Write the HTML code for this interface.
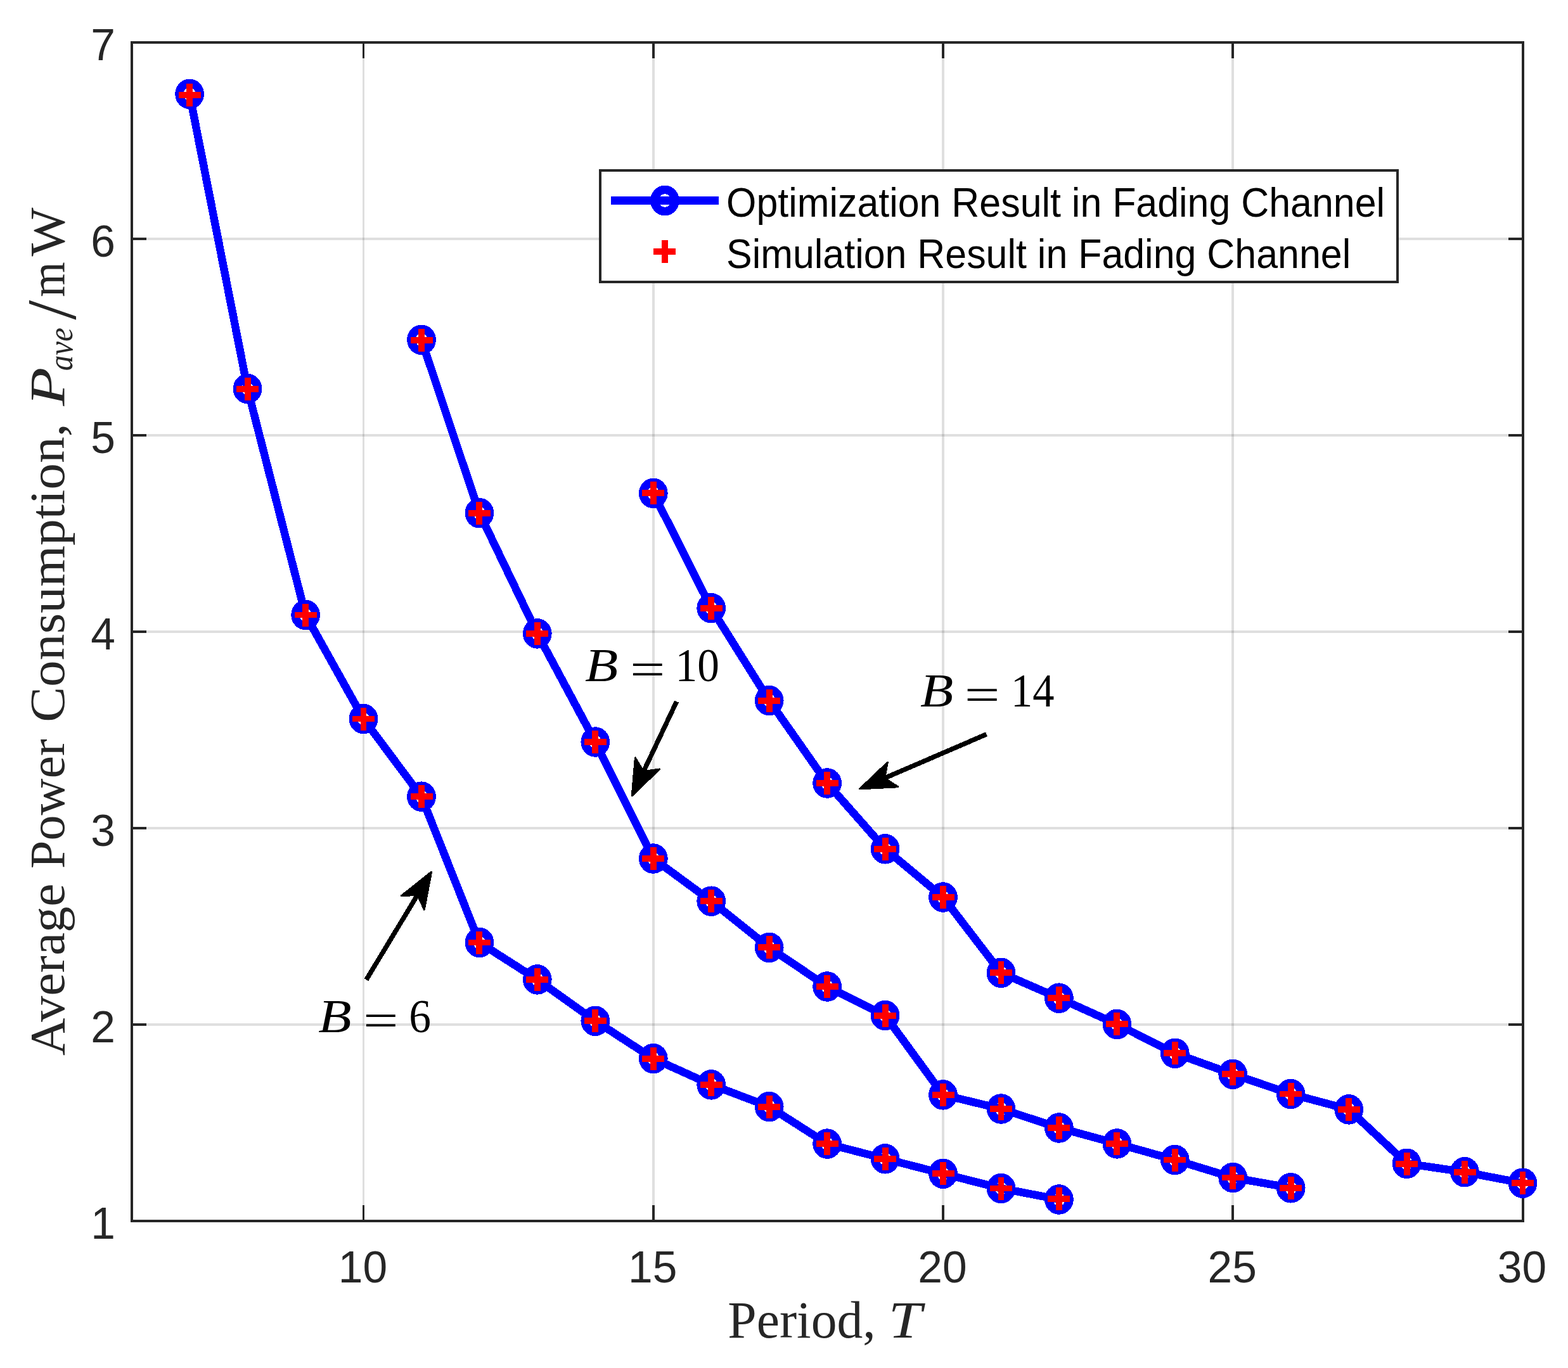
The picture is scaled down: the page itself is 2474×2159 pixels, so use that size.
<!DOCTYPE html>
<html lang="en"><head><meta charset="utf-8"><title>Average Power Consumption vs Period</title>
<style>
html,body{margin:0;padding:0;background:#fff;}
body{width:2474px;height:2159px;overflow:hidden;}
svg{display:block;}
.tk{font-family:'Liberation Sans',Arial,Helvetica,sans-serif;fill:#262626;}
.lg{font-family:'Liberation Sans',Arial,Helvetica,sans-serif;fill:#000;}
.lb{font-family:'Liberation Serif','Times New Roman',serif;fill:#262626;}
.an{font-family:'Liberation Serif','Times New Roman',serif;fill:#000;}
</style></head><body>
<svg width="2474" height="2159" viewBox="0 0 2474 2159">
<rect x="0" y="0" width="2474" height="2159" fill="#fff"/>
<g fill="#262626" fill-opacity="0.15" shape-rendering="crispEdges">
<rect x="572.0" y="67.0" width="3" height="1860.0"/>
<rect x="1029.0" y="67.0" width="4" height="1860.0"/>
<rect x="1486.0" y="67.0" width="4" height="1860.0"/>
<rect x="1943.0" y="67.0" width="4" height="1860.0"/>
<rect x="208.0" y="1615.0" width="2195.0" height="4"/>
<rect x="208.0" y="1305.0" width="2195.0" height="4"/>
<rect x="208.0" y="995.0" width="2195.0" height="4"/>
<rect x="208.0" y="685.0" width="2195.0" height="4"/>
<rect x="208.0" y="375.0" width="2195.0" height="4"/>
</g>
<g fill="#262626" shape-rendering="crispEdges">
<rect x="572.0" y="1902.0" width="3" height="25.0"/>
<rect x="572.0" y="67.0" width="3" height="25.0"/>
<rect x="1029.0" y="1902.0" width="4" height="25.0"/>
<rect x="1029.0" y="67.0" width="4" height="25.0"/>
<rect x="1486.0" y="1902.0" width="4" height="25.0"/>
<rect x="1486.0" y="67.0" width="4" height="25.0"/>
<rect x="1943.0" y="1902.0" width="4" height="25.0"/>
<rect x="1943.0" y="67.0" width="4" height="25.0"/>
<rect x="208.0" y="1615.0" width="23.0" height="4"/>
<rect x="2380.0" y="1615.0" width="23.0" height="4"/>
<rect x="208.0" y="1305.0" width="23.0" height="4"/>
<rect x="2380.0" y="1305.0" width="23.0" height="4"/>
<rect x="208.0" y="995.0" width="23.0" height="4"/>
<rect x="2380.0" y="995.0" width="23.0" height="4"/>
<rect x="208.0" y="685.0" width="23.0" height="4"/>
<rect x="2380.0" y="685.0" width="23.0" height="4"/>
<rect x="208.0" y="375.0" width="23.0" height="4"/>
<rect x="2380.0" y="375.0" width="23.0" height="4"/>
</g>
<rect x="208.00" y="67.00" width="2195.00" height="1860.00" fill="none" stroke="#262626" stroke-width="4.0"/>
<text class="tk" text-anchor="middle" font-size="69.5" transform="translate(572.50,2024) scale(1,1.020)">10</text>
<text class="tk" text-anchor="middle" font-size="69.5" transform="translate(1029.75,2024) scale(1,1.020)">15</text>
<text class="tk" text-anchor="middle" font-size="69.5" transform="translate(1487.00,2024) scale(1,1.020)">20</text>
<text class="tk" text-anchor="middle" font-size="69.5" transform="translate(1944.25,2024) scale(1,1.020)">25</text>
<text class="tk" text-anchor="middle" font-size="69.5" transform="translate(2401.50,2024) scale(1,1.020)">30</text>
<text class="tk" text-anchor="end" font-size="69.5" transform="translate(181.9,1955.00) scale(1,1.020)">1</text>
<text class="tk" text-anchor="end" font-size="69.5" transform="translate(181.9,1645.00) scale(1,1.020)">2</text>
<text class="tk" text-anchor="end" font-size="69.5" transform="translate(181.9,1335.00) scale(1,1.020)">3</text>
<text class="tk" text-anchor="end" font-size="69.5" transform="translate(181.9,1025.00) scale(1,1.020)">4</text>
<text class="tk" text-anchor="end" font-size="69.5" transform="translate(181.9,715.00) scale(1,1.020)">5</text>
<text class="tk" text-anchor="end" font-size="69.5" transform="translate(181.9,405.00) scale(1,1.020)">6</text>
<text class="tk" text-anchor="end" font-size="69.5" transform="translate(181.9,95.00) scale(1,1.020)">7</text>
<g><text class="lb" transform="translate(1148.35,2110.90) scale(0.9997,1.0000)" font-size="81.60">Period,</text> <text class="lb" transform="translate(1401.70,2110.90) scale(1.1590,1.0000)" font-size="81.60" font-style="italic">T</text></g>
<g><text class="lb" transform="translate(101.20,1666.02) rotate(-90) scale(1.0586,1.0000)" font-size="77.50">Average</text> <text class="lb" transform="translate(101.20,1370.90) rotate(-90) scale(1.0326,1.0000)" font-size="77.50">Power</text> <text class="lb" transform="translate(101.20,1139.64) rotate(-90) scale(1.0783,1.0000)" font-size="77.50">Consumption,</text> <text class="lb" transform="translate(101.20,640.73) rotate(-90) scale(1.2918,1.0000)" font-size="77.50" font-style="italic">P</text><text class="lb" transform="translate(113.80,585.27) rotate(-90) scale(0.9088,1.0000)" font-size="54.00" font-style="italic">ave</text><text class="lb" transform="translate(118.60,504.80) rotate(-90) scale(1.0029,1.0000)" font-size="111.00">/</text><text class="lb" transform="translate(101.20,468.73) rotate(-90) scale(0.9200,1.0000)" font-size="77.50">m</text><text class="lb" transform="translate(101.20,404.40) rotate(-90) scale(1.0519,1.0000)" font-size="77.50">W</text></g>
<g shape-rendering="crispEdges">
<g stroke="#0000ff" stroke-width="12.5" fill="none" stroke-linejoin="round" stroke-linecap="butt">
<polyline points="299.1,148.4 390.6,613.6 482.1,970.5 573.5,1134.5 665.0,1257.2 756.4,1487.5 847.8,1545.9 939.3,1611.3 1030.8,1670.6 1122.2,1711.9 1213.7,1746.6 1305.1,1805.1 1396.6,1828.8 1488.0,1852.3 1579.5,1875.5 1670.9,1893.0"/>
<polyline points="665.0,536.3 756.4,809.7 847.8,999.9 939.3,1171.0 1030.8,1355.0 1122.2,1422.2 1213.7,1495.4 1305.1,1557.0 1396.6,1602.6 1488.0,1727.9 1579.5,1750.0 1670.9,1780.0 1762.4,1804.9 1853.8,1830.5 1945.2,1858.5 2036.7,1874.8"/>
<polyline points="1030.8,778.4 1122.2,959.7 1213.7,1105.6 1305.1,1236.0 1396.6,1339.8 1488.0,1416.0 1579.5,1535.3 1670.9,1575.2 1762.4,1616.4 1853.8,1662.3 1945.2,1695.3 2036.7,1726.5 2128.2,1750.9 2219.6,1836.3 2311.0,1849.8 2402.5,1867.2"/>
</g>
<g stroke="#0000ff" stroke-width="13.3" fill="none">
<ellipse cx="299.1" cy="148.4" rx="16.2" ry="17.1"/>
<ellipse cx="390.6" cy="613.6" rx="16.2" ry="17.1"/>
<ellipse cx="482.1" cy="970.5" rx="16.2" ry="17.1"/>
<ellipse cx="573.5" cy="1134.5" rx="16.2" ry="17.1"/>
<ellipse cx="665.0" cy="1257.2" rx="16.2" ry="17.1"/>
<ellipse cx="756.4" cy="1487.5" rx="16.2" ry="17.1"/>
<ellipse cx="847.8" cy="1545.9" rx="16.2" ry="17.1"/>
<ellipse cx="939.3" cy="1611.3" rx="16.2" ry="17.1"/>
<ellipse cx="1030.8" cy="1670.6" rx="16.2" ry="17.1"/>
<ellipse cx="1122.2" cy="1711.9" rx="16.2" ry="17.1"/>
<ellipse cx="1213.7" cy="1746.6" rx="16.2" ry="17.1"/>
<ellipse cx="1305.1" cy="1805.1" rx="16.2" ry="17.1"/>
<ellipse cx="1396.6" cy="1828.8" rx="16.2" ry="17.1"/>
<ellipse cx="1488.0" cy="1852.3" rx="16.2" ry="17.1"/>
<ellipse cx="1579.5" cy="1875.5" rx="16.2" ry="17.1"/>
<ellipse cx="1670.9" cy="1893.0" rx="16.2" ry="17.1"/>
<ellipse cx="665.0" cy="536.3" rx="16.2" ry="17.1"/>
<ellipse cx="756.4" cy="809.7" rx="16.2" ry="17.1"/>
<ellipse cx="847.8" cy="999.9" rx="16.2" ry="17.1"/>
<ellipse cx="939.3" cy="1171.0" rx="16.2" ry="17.1"/>
<ellipse cx="1030.8" cy="1355.0" rx="16.2" ry="17.1"/>
<ellipse cx="1122.2" cy="1422.2" rx="16.2" ry="17.1"/>
<ellipse cx="1213.7" cy="1495.4" rx="16.2" ry="17.1"/>
<ellipse cx="1305.1" cy="1557.0" rx="16.2" ry="17.1"/>
<ellipse cx="1396.6" cy="1602.6" rx="16.2" ry="17.1"/>
<ellipse cx="1488.0" cy="1727.9" rx="16.2" ry="17.1"/>
<ellipse cx="1579.5" cy="1750.0" rx="16.2" ry="17.1"/>
<ellipse cx="1670.9" cy="1780.0" rx="16.2" ry="17.1"/>
<ellipse cx="1762.4" cy="1804.9" rx="16.2" ry="17.1"/>
<ellipse cx="1853.8" cy="1830.5" rx="16.2" ry="17.1"/>
<ellipse cx="1945.2" cy="1858.5" rx="16.2" ry="17.1"/>
<ellipse cx="2036.7" cy="1874.8" rx="16.2" ry="17.1"/>
<ellipse cx="1030.8" cy="778.4" rx="16.2" ry="17.1"/>
<ellipse cx="1122.2" cy="959.7" rx="16.2" ry="17.1"/>
<ellipse cx="1213.7" cy="1105.6" rx="16.2" ry="17.1"/>
<ellipse cx="1305.1" cy="1236.0" rx="16.2" ry="17.1"/>
<ellipse cx="1396.6" cy="1339.8" rx="16.2" ry="17.1"/>
<ellipse cx="1488.0" cy="1416.0" rx="16.2" ry="17.1"/>
<ellipse cx="1579.5" cy="1535.3" rx="16.2" ry="17.1"/>
<ellipse cx="1670.9" cy="1575.2" rx="16.2" ry="17.1"/>
<ellipse cx="1762.4" cy="1616.4" rx="16.2" ry="17.1"/>
<ellipse cx="1853.8" cy="1662.3" rx="16.2" ry="17.1"/>
<ellipse cx="1945.2" cy="1695.3" rx="16.2" ry="17.1"/>
<ellipse cx="2036.7" cy="1726.5" rx="16.2" ry="17.1"/>
<ellipse cx="2128.2" cy="1750.9" rx="16.2" ry="17.1"/>
<ellipse cx="2219.6" cy="1836.3" rx="16.2" ry="17.1"/>
<ellipse cx="2311.0" cy="1849.8" rx="16.2" ry="17.1"/>
<ellipse cx="2402.5" cy="1867.2" rx="16.2" ry="17.1"/>
</g>
<path stroke="#ff0000" stroke-width="9.9" fill="none" d="M281.6 149.9H316.6M299.1 131.9V167.9M373.1 614.0H408.1M390.6 596.0V632.0M464.6 970.5H499.6M482.1 952.5V988.5M556.0 1134.5H591.0M573.5 1116.5V1152.5M647.5 1257.2H682.5M665.0 1239.2V1275.2M738.9 1487.5H773.9M756.4 1469.5V1505.5M830.3 1545.9H865.3M847.8 1527.9V1563.9M921.8 1611.3H956.8M939.3 1593.3V1629.3M1013.2 1670.6H1048.2M1030.8 1652.6V1688.6M1104.7 1711.9H1139.7M1122.2 1693.9V1729.9M1196.2 1746.6H1231.2M1213.7 1728.6V1764.6M1287.6 1805.1H1322.6M1305.1 1787.1V1823.1M1379.1 1828.8H1414.1M1396.6 1810.8V1846.8M1470.5 1852.3H1505.5M1488.0 1834.3V1870.3M1562.0 1875.5H1597.0M1579.5 1857.5V1893.5M1653.4 1891.8H1688.4M1670.9 1873.8V1909.8M647.5 537.2H682.5M665.0 519.2V555.2M738.9 809.7H773.9M756.4 791.7V827.7M830.3 999.9H865.3M847.8 981.9V1017.9M921.8 1171.0H956.8M939.3 1153.0V1189.0M1013.2 1355.0H1048.2M1030.8 1337.0V1373.0M1104.7 1422.2H1139.7M1122.2 1404.2V1440.2M1196.2 1495.4H1231.2M1213.7 1477.4V1513.4M1287.6 1557.0H1322.6M1305.1 1539.0V1575.0M1379.1 1602.6H1414.1M1396.6 1584.6V1620.6M1470.5 1727.9H1505.5M1488.0 1709.9V1745.9M1562.0 1750.0H1597.0M1579.5 1732.0V1768.0M1653.4 1780.0H1688.4M1670.9 1762.0V1798.0M1744.9 1804.9H1779.9M1762.4 1786.9V1822.9M1836.3 1830.5H1871.3M1853.8 1812.5V1848.5M1927.8 1858.5H1962.8M1945.2 1840.5V1876.5M2019.2 1874.8H2054.2M2036.7 1856.8V1892.8M1013.2 778.4H1048.2M1030.8 760.4V796.4M1104.7 959.7H1139.7M1122.2 941.7V977.7M1196.2 1105.6H1231.2M1213.7 1087.6V1123.6M1287.6 1236.0H1322.6M1305.1 1218.0V1254.0M1379.1 1339.8H1414.1M1396.6 1321.8V1357.8M1470.5 1416.0H1505.5M1488.0 1398.0V1434.0M1562.0 1535.3H1597.0M1579.5 1517.3V1553.3M1653.4 1575.2H1688.4M1670.9 1557.2V1593.2M1744.9 1616.4H1779.9M1762.4 1598.4V1634.4M1836.3 1662.3H1871.3M1853.8 1644.3V1680.3M1927.8 1695.3H1962.8M1945.2 1677.3V1713.3M2019.2 1726.5H2054.2M2036.7 1708.5V1744.5M2110.7 1750.9H2145.7M2128.2 1732.9V1768.9M2202.1 1837.3H2237.1M2219.6 1819.3V1855.3M2293.5 1849.8H2328.5M2311.0 1831.8V1867.8M2385.0 1867.2H2420.0M2402.5 1849.2V1885.2"/>
</g>
<g shape-rendering="crispEdges">
<line x1="577.9" y1="1546.3" x2="658.7" y2="1412.5" stroke="#000" stroke-width="7.5"/><polygon fill="#000" stroke="#000" stroke-width="3.0" stroke-linejoin="round" points="680.6,1376.1 669.4,1435.3 658.7,1412.5 633.5,1413.6"/>
<line x1="1067.6" y1="1107.1" x2="1015.4" y2="1217.6" stroke="#000" stroke-width="7.5"/><polygon fill="#000" stroke="#000" stroke-width="3.0" stroke-linejoin="round" points="997.2,1256.0 1002.4,1196.0 1015.4,1217.6 1040.4,1213.9"/>
<line x1="1556.5" y1="1158.8" x2="1395.7" y2="1228.1" stroke="#000" stroke-width="7.5"/><polygon fill="#000" stroke="#000" stroke-width="3.0" stroke-linejoin="round" points="1356.7,1244.9 1400.3,1203.3 1395.7,1228.1 1416.9,1241.8"/>
</g>
<g><text class="an" transform="translate(502.34,1628.90) scale(1.1487,1.0000)" font-size="74.60" font-style="italic">B</text> <text class="an" transform="translate(572.97,1635.40) scale(1.3213,1.0000)" font-size="74.60">=</text> <text class="an" transform="translate(645.18,1628.90) scale(0.9331,1.0000)" font-size="74.60">6</text></g>
<g><text class="an" transform="translate(922.94,1074.90) scale(1.1463,1.0000)" font-size="74.60" font-style="italic">B</text> <text class="an" transform="translate(994.08,1081.40) scale(1.3185,1.0000)" font-size="74.60">=</text> <text class="an" transform="translate(1065.49,1074.90) scale(0.9297,1.0000)" font-size="74.60">10</text></g>
<g><text class="an" transform="translate(1451.94,1114.90) scale(1.1463,1.0000)" font-size="74.60" font-style="italic">B</text> <text class="an" transform="translate(1521.85,1121.40) scale(1.3271,1.0000)" font-size="74.60">=</text> <text class="an" transform="translate(1594.97,1114.90) scale(0.9179,1.0000)" font-size="74.60">14</text></g>
<rect x="947" y="269" width="1258" height="176" fill="#fff" stroke="#262626" stroke-width="4"/>
<g shape-rendering="crispEdges">
<rect x="964" y="310" width="170" height="13" fill="#0000ff"/>
<ellipse cx="1049" cy="316.5" rx="16.2" ry="17.1" stroke="#0000ff" stroke-width="13.3" fill="none"/>
<path fill="#ff0000" d="M1031 392h35v10h-35zM1044 379h10v36h-10z"/>
</g>
<text class="lg" transform="translate(1146.06,342.20) scale(0.9440,1.0000)" font-size="64.50">Optimization Result in Fading Channel</text>
<text class="lg" transform="translate(1146.06,423.00) scale(0.9444,1.0000)" font-size="64.50">Simulation Result in Fading Channel</text>
</svg>
</body></html>
